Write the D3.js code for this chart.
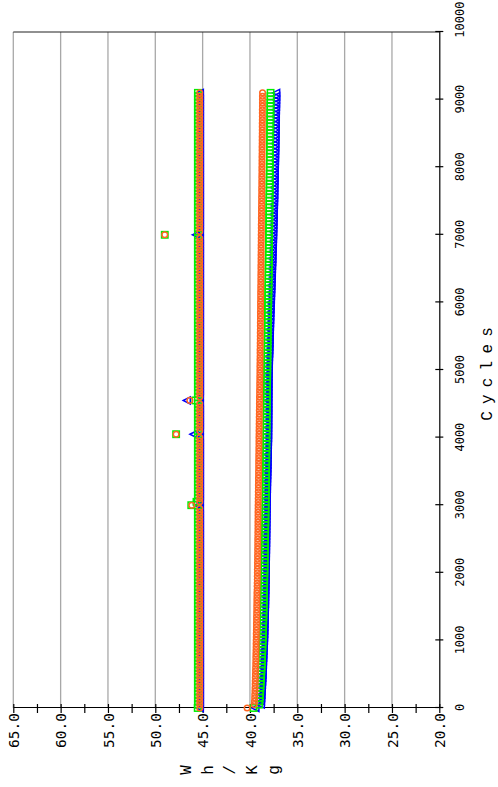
<!DOCTYPE html>
<html><head><meta charset="utf-8">
<script src="https://cdn.jsdelivr.net/npm/d3@7"></script>
<style>html,body{margin:0;padding:0;background:#fff}svg{display:block}</style>
</head><body>
<svg id="c" width="498" height="787"></svg>
<script>
// ---------- DATA ----------
const cycleStep = 50;                       // sampling interval of the test (cycles)
const cycles = d3.range(0, 9101, cycleStep); // 0 .. 9100
const cycleTicks = [0,1000,2000,3000,4000,5000,6000,7000,8000,9000,10000];
const whTicks = [65,62.5,60,57.5,55,52.5,50,47.5,45,42.5,40,37.5,35,32.5,30,27.5,25,22.5,20];
const whLabels = ["65.0","60.0","55.0","50.0","45.0","40.0","35.0","30.0","25.0","20.0"];
const whGrid = [65,60,55,50,45,40,35,30,25];
const xTitle = ["C","y","c","l","e","s"];
const yTitle = ["W","h","/","K","g"];

// upper group (charge energy)
const upperGreen = [
45.52,45.50,45.50,45.50,45.50,45.50,45.50,45.50,45.50,45.50,
45.50,45.50,45.50,45.50,45.50,45.50,45.50,45.50,45.50,45.50,
45.50,45.50,45.50,45.50,45.50,45.50,45.50,45.50,45.50,45.50,
45.50,45.50,45.50,45.50,45.50,45.50,45.50,45.50,45.50,45.50,
45.50,45.50,45.50,45.50,45.50,45.50,45.50,45.50,45.50,45.50,
45.50,45.50,45.50,45.50,45.50,45.50,45.50,45.50,45.50,45.50,
46.20,45.65,45.50,45.50,45.50,45.50,45.50,45.50,45.50,45.50,
45.50,45.50,45.50,45.50,45.50,45.50,45.50,45.50,45.50,45.50,
45.50,47.80,45.50,45.50,45.50,45.50,45.50,45.50,45.50,45.50,
45.50,45.75,45.50,45.50,45.50,45.50,45.50,45.50,45.50,45.50,
45.50,45.50,45.50,45.50,45.50,45.50,45.50,45.50,45.50,45.50,
45.50,45.50,45.50,45.50,45.50,45.50,45.50,45.50,45.50,45.50,
45.50,45.50,45.50,45.50,45.50,45.50,45.50,45.50,45.50,45.50,
45.50,45.50,45.50,45.50,45.50,45.50,45.50,45.50,45.50,45.50,
49.00,45.50,45.50,45.50,45.50,45.50,45.50,45.50,45.50,45.50,
45.50,45.50,45.50,45.50,45.50,45.50,45.50,45.50,45.50,45.50,
45.50,45.50,45.50,45.50,45.50,45.50,45.50,45.50,45.50,45.50,
45.50,45.50,45.50,45.50,45.50,45.50,45.50,45.50,45.50,45.50,
45.50,45.50,45.50];
const upperOrange = [
45.30,45.30,45.30,45.30,45.30,45.30,45.30,45.30,45.30,45.30,
45.30,45.30,45.30,45.30,45.30,45.30,45.30,45.30,45.30,45.30,
45.30,45.30,45.30,45.30,45.30,45.30,45.30,45.30,45.30,45.30,
45.30,45.30,45.30,45.30,45.30,45.30,45.30,45.30,45.30,45.30,
45.30,45.30,45.30,45.30,45.30,45.30,45.30,45.30,45.30,45.30,
45.30,45.30,45.30,45.30,45.30,45.30,45.30,45.30,45.30,45.30,
46.15,45.30,45.30,45.30,45.30,45.30,45.30,45.30,45.30,45.30,
45.30,45.30,45.30,45.30,45.30,45.30,45.30,45.30,45.30,45.30,
45.30,47.80,45.30,45.30,45.30,45.30,45.30,45.30,45.30,45.30,
45.30,46.35,45.30,45.30,45.30,45.30,45.30,45.30,45.30,45.30,
45.30,45.30,45.30,45.30,45.30,45.30,45.30,45.30,45.30,45.30,
45.30,45.30,45.30,45.30,45.30,45.30,45.30,45.30,45.30,45.30,
45.30,45.30,45.30,45.30,45.30,45.30,45.30,45.30,45.30,45.30,
45.30,45.30,45.30,45.30,45.30,45.30,45.30,45.30,45.30,45.30,
49.00,45.30,45.30,45.30,45.30,45.30,45.30,45.30,45.30,45.30,
45.30,45.30,45.30,45.30,45.30,45.30,45.30,45.30,45.30,45.30,
45.30,45.30,45.30,45.30,45.30,45.30,45.30,45.30,45.30,45.30,
45.30,45.30,45.30,45.30,45.30,45.30,45.30,45.30,45.30,45.30,
45.30,45.30,45.30];
const upperBlue = [
45.22,45.22,45.22,45.22,45.22,45.22,45.22,45.22,45.22,45.22,
45.22,45.22,45.22,45.22,45.22,45.22,45.22,45.22,45.22,45.22,
45.22,45.22,45.22,45.22,45.22,45.22,45.22,45.22,45.22,45.22,
45.22,45.22,45.22,45.22,45.22,45.22,45.22,45.22,45.22,45.22,
45.22,45.22,45.22,45.22,45.22,45.22,45.22,45.22,45.22,45.22,
45.22,45.22,45.22,45.22,45.22,45.22,45.22,45.22,45.22,45.22,
45.40,45.22,45.22,45.22,45.22,45.22,45.22,45.22,45.22,45.22,
45.22,45.22,45.22,45.22,45.22,45.22,45.22,45.22,45.22,45.22,
45.22,45.90,45.22,45.22,45.22,45.22,45.22,45.22,45.22,45.22,
45.22,46.60,45.22,45.22,45.22,45.22,45.22,45.22,45.22,45.22,
45.22,45.22,45.22,45.22,45.22,45.22,45.22,45.22,45.22,45.22,
45.22,45.22,45.22,45.22,45.22,45.22,45.22,45.22,45.22,45.22,
45.22,45.22,45.22,45.22,45.22,45.22,45.22,45.22,45.22,45.22,
45.22,45.22,45.22,45.22,45.22,45.22,45.22,45.22,45.22,45.22,
45.65,45.22,45.22,45.22,45.22,45.22,45.22,45.22,45.22,45.22,
45.22,45.22,45.22,45.22,45.22,45.22,45.22,45.22,45.22,45.22,
45.22,45.22,45.22,45.22,45.22,45.22,45.22,45.22,45.22,45.22,
45.22,45.22,45.22,45.22,45.22,45.22,45.22,45.22,45.22,45.22,
45.22,45.22,45.22];

// lower group (discharge energy)
const lowerOrange = [
40.30,39.55,39.52,39.50,39.49,39.47,39.46,39.45,39.44,39.43,
39.42,39.41,39.40,39.39,39.38,39.38,39.37,39.36,39.35,39.35,
39.34,39.33,39.33,39.32,39.31,39.31,39.30,39.30,39.29,39.28,
39.28,39.27,39.27,39.26,39.26,39.25,39.25,39.24,39.23,39.23,
39.22,39.22,39.21,39.21,39.20,39.20,39.19,39.19,39.18,39.18,
39.18,39.17,39.17,39.16,39.16,39.16,39.15,39.15,39.15,39.14,
39.14,39.13,39.13,39.12,39.12,39.11,39.11,39.10,39.10,39.09,
39.09,39.08,39.08,39.08,39.07,39.07,39.06,39.06,39.05,39.05,
39.05,39.04,39.04,39.03,39.03,39.02,39.02,39.01,39.01,39.00,
39.00,38.99,38.99,38.98,38.98,38.97,38.97,38.96,38.96,38.95,
38.95,38.95,38.94,38.94,38.93,38.93,38.93,38.92,38.92,38.91,
38.91,38.91,38.90,38.90,38.90,38.89,38.89,38.89,38.88,38.88,
38.88,38.87,38.87,38.87,38.86,38.86,38.85,38.85,38.85,38.84,
38.84,38.84,38.83,38.83,38.83,38.82,38.82,38.82,38.81,38.81,
38.81,38.80,38.80,38.80,38.79,38.79,38.78,38.78,38.78,38.77,
38.77,38.77,38.76,38.76,38.76,38.75,38.75,38.75,38.74,38.74,
38.74,38.73,38.73,38.73,38.72,38.72,38.72,38.71,38.71,38.71,
38.70,38.70,38.70,38.70,38.69,38.69,38.69,38.69,38.68,38.68,
38.68,38.68,38.67];
const lowerGreen = [
39.62,39.05,39.00,38.97,38.95,38.92,38.90,38.88,38.86,38.84,
38.82,38.80,38.78,38.76,38.75,38.73,38.72,38.70,38.69,38.68,
38.66,38.65,38.64,38.63,38.62,38.61,38.60,38.59,38.58,38.57,
38.56,38.55,38.54,38.54,38.53,38.52,38.51,38.50,38.50,38.49,
38.48,38.47,38.47,38.46,38.45,38.45,38.44,38.43,38.43,38.42,
38.41,38.41,38.40,38.40,38.39,38.38,38.38,38.37,38.37,38.36,
38.36,38.35,38.35,38.34,38.34,38.33,38.33,38.32,38.32,38.31,
38.31,38.30,38.30,38.29,38.29,38.29,38.28,38.28,38.27,38.27,
38.27,38.26,38.26,38.25,38.25,38.25,38.24,38.24,38.23,38.23,
38.23,38.22,38.22,38.21,38.21,38.20,38.20,38.19,38.19,38.18,
38.18,38.17,38.17,38.16,38.16,38.15,38.15,38.14,38.14,38.13,
38.13,38.12,38.12,38.11,38.11,38.10,38.10,38.09,38.09,38.08,
38.08,38.07,38.07,38.06,38.06,38.05,38.05,38.04,38.04,38.03,
38.03,38.02,38.02,38.01,38.01,38.00,38.00,37.99,37.99,37.98,
37.98,37.98,37.97,37.97,37.96,37.96,37.96,37.95,37.95,37.94,
37.94,37.94,37.93,37.93,37.92,37.92,37.92,37.91,37.91,37.90,
37.90,37.90,37.89,37.89,37.89,37.88,37.88,37.88,37.87,37.87,
37.87,37.86,37.86,37.86,37.85,37.85,37.85,37.84,37.84,37.84,
37.83,37.83,37.82];
const lowerBlue = [
39.35,38.78,38.76,38.74,38.72,38.70,38.68,38.66,38.64,38.62,
38.60,38.59,38.58,38.56,38.55,38.53,38.52,38.50,38.49,38.47,
38.45,38.44,38.43,38.42,38.41,38.40,38.39,38.38,38.37,38.36,
38.35,38.34,38.34,38.33,38.32,38.31,38.31,38.30,38.29,38.29,
38.28,38.27,38.27,38.26,38.26,38.25,38.25,38.24,38.24,38.23,
38.23,38.22,38.22,38.21,38.21,38.20,38.20,38.19,38.19,38.18,
38.18,38.17,38.17,38.16,38.15,38.14,38.14,38.13,38.12,38.11,
38.10,38.09,38.08,38.08,38.07,38.06,38.05,38.05,38.04,38.03,
38.02,38.02,38.02,38.01,38.01,38.01,38.01,38.00,38.00,38.00,
38.00,38.00,37.99,37.99,37.99,37.98,37.98,37.98,37.97,37.97,
37.96,37.95,37.94,37.93,37.92,37.90,37.89,37.88,37.87,37.86,
37.85,37.84,37.83,37.82,37.81,37.80,37.79,37.78,37.76,37.75,
37.74,37.72,37.71,37.70,37.68,37.67,37.66,37.64,37.63,37.62,
37.61,37.60,37.58,37.57,37.56,37.55,37.54,37.52,37.51,37.50,
37.49,37.48,37.47,37.46,37.45,37.44,37.43,37.42,37.41,37.40,
37.39,37.38,37.37,37.37,37.36,37.35,37.34,37.33,37.32,37.32,
37.31,37.30,37.29,37.29,37.28,37.27,37.26,37.26,37.25,37.24,
37.24,37.23,37.22,37.22,37.21,37.20,37.20,37.19,37.18,37.18,
37.17,37.16,37.16];

const seriesNames = ["Cell 1 charge","Cell 1 discharge","Cell 2 charge","Cell 2 discharge","Cell 3 charge","Cell 3 discharge"];
const seriesValues = [upperBlue, lowerBlue, upperGreen, lowerGreen, upperOrange, lowerOrange];
const seriesShapes = ["triangle","triangle","square","square","circle","circle"];
const seriesColors = ["#0000ff","#0000ff","#00ee00","#00ee00","#ff6622","#ff6622"];

// ---------- DRAW (chart laid out landscape, then turned 90° CCW) ----------
const W = 787, H = 498;
const L = 79, R = 755, T = 13.3, B = 439.3;
const svg = d3.select("#c");
const g = svg.append("g").attr("transform", `translate(0,${W}) rotate(-90)`);

const x = d3.scaleLinear().domain([0, 10000]).range([L, R]);
const y = d3.scaleLinear().domain([20, 65]).range([B, T]);

// grid lines
g.append("g").selectAll("line").data(whGrid).join("line")
  .attr("x1", L).attr("x2", R).attr("y1", d => y(d)).attr("y2", d => y(d))
  .attr("stroke", "#a8a8a8").attr("stroke-width", 1.3);

// frame line at 10000 cycles
g.append("line").attr("x1", R).attr("x2", R).attr("y1", T).attr("y2", B)
  .attr("stroke", "#222").attr("stroke-width", 1.2);

const tickFont = "'DejaVu Sans Mono', 'Liberation Mono', monospace";

// Wh/Kg axis
const yAx = g.append("g").attr("transform", `translate(${L},0)`)
  .call(d3.axisLeft(y).tickValues(whTicks).tickSizeInner(5).tickSizeOuter(0)
    .tickFormat(d => { const s = d.toFixed(1); return whLabels.includes(s) ? s : ""; }));
yAx.select(".domain").attr("stroke", "#000").attr("stroke-width", 1.2);
yAx.selectAll(".tick line").attr("x1", 4).attr("x2", -5).attr("stroke", "#000").attr("stroke-width", 1.2);
yAx.selectAll(".tick text").attr("x", -5).attr("dy", "0.36em")
  .attr("font-family", tickFont).attr("font-size", 14.5).attr("fill", "#000");

// Cycles axis
const xAx = g.append("g").attr("transform", `translate(0,${B})`)
  .call(d3.axisBottom(x).tickValues(cycleTicks).tickSizeInner(4).tickSizeOuter(0).tickFormat(d3.format("d")));
xAx.select(".domain").attr("stroke", "#000").attr("stroke-width", 1.2);
xAx.selectAll(".tick line").attr("y1", -4).attr("y2", 4).attr("stroke", "#000").attr("stroke-width", 1.2);
xAx.selectAll(".tick text").attr("y", 20).attr("dy", "0.36em")
  .attr("font-family", tickFont).attr("font-size", 12).attr("fill", "#000");
// last label is pushed inside the page edge
xAx.selectAll(".tick text").filter(d => d === cycleTicks[cycleTicks.length - 1])
  .attr("text-anchor", "end").attr("x", (W - 2) - x(cycleTicks[cycleTicks.length - 1]));

// titles
g.append("g").selectAll("text").data(xTitle).join("text")
  .attr("x", (d, i) => 371 + i * 16.8).attr("y", 492)
  .attr("text-anchor", "middle")
  .attr("font-family", "'Liberation Mono', monospace").attr("font-size", 16).text(d => d);
g.append("g").selectAll("text").data(yTitle).join("text")
  .attr("x", 17).attr("y", (d, i) => 185 + i * 22)
  .attr("dy", "0.36em").attr("text-anchor", "middle")
  .attr("font-family", "'Liberation Mono', monospace").attr("font-size", 16).text(d => d);

// markers
const tri = "M0,-4.2L3.5,2.8L-3.5,2.8Z";
seriesValues.forEach((vals, s) => {
  const pts = vals.map((v, i) => ({ c: cycles[i], v }));
  const grp = g.append("g").attr("class", "series").attr("data-name", seriesNames[s])
    .attr("fill", "none").attr("stroke", seriesColors[s]).attr("stroke-width", 1.5);
  const sh = seriesShapes[s];
  if (sh === "circle") {
    grp.selectAll("circle").data(pts).join("circle")
      .attr("cx", d => x(d.c)).attr("cy", d => y(d.v)).attr("r", 2.8);
  } else if (sh === "square") {
    grp.selectAll("rect").data(pts).join("rect")
      .attr("x", d => x(d.c) - 3.2).attr("y", d => y(d.v) - 3.2).attr("width", 6.4).attr("height", 6.4);
  } else {
    grp.selectAll("path").data(pts).join("path")
      .attr("transform", d => `translate(${x(d.c)},${y(d.v)})`).attr("d", tri);
  }
});
</script>
</body></html>
